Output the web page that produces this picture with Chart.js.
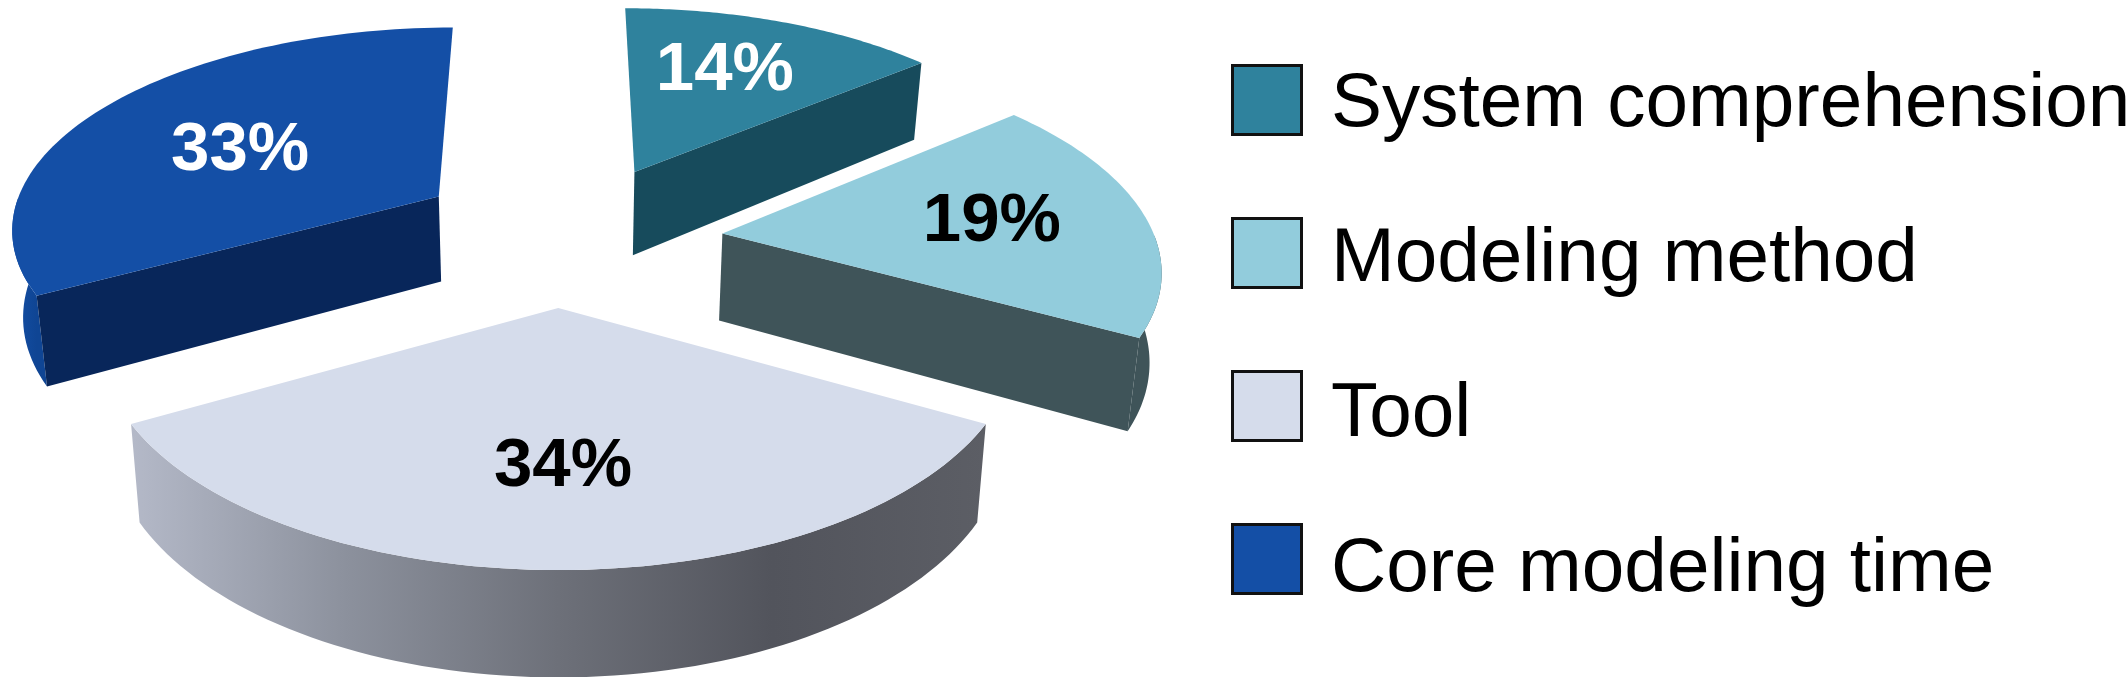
<!DOCTYPE html>
<html>
<head>
<meta charset="utf-8">
<title>Modeling effort</title>
<script src="https://cdn.jsdelivr.net/npm/chart.js@4"></script>
<style>
  html, body { margin: 0; padding: 0; background: #fff; overflow: hidden; }
  #wrap { width: 2126px; height: 677px; }
</style>
</head>
<body>
<div id="wrap"><canvas id="chart"></canvas></div>
<script>
const categories = ['System comprehension', 'Modeling method', 'Tool', 'Core modeling time'];
const shares = [14, 19, 34, 33];

// look of each slice
const topColors = ['#2F829D', '#92CCDC', '#D5DCEB', '#144FA6'];
const cutColors = ['#174B5C', '#3F5459', '#5A5C63', '#08265A'];
const rimColors = [
  ['#174B5C', '#174B5C'],
  ['#3F5459', '#3F5459'],
  ['#B4B9C8', '#8C919D', '#6D7079', '#52545C', '#5C5E65'],
  ['#144FA6', '#0F4594']
];
const labelColors = ['#fff', '#000', '#000', '#fff'];

// how far each slice is pulled out of the pie, in radii
const pullU = [0.19, 0.386, 0.005, -0.279];
const pullV = [-0.328, -0.01, 0.341, -0.197];
// where the percentages sit on the pie plane, in radii
const labelU = [0.441, 1.019, 0.014, -0.777];
const labelV = [-0.915, -0.067, 0.984, -0.443];

// camera used for the tilted pie
const horizon = -1218, vanishX = 556, nearK = 6.88e-4, depthK = 0.96e-4, widthK = 0.297;
const dropY = 1.06, dropX = 0.98;

function project(u, v, low) {
  const d = 1 / (nearK - depthK * v);
  let x = widthK * d * u;
  let y = d;
  if (low) { x *= dropX; y *= dropY; }
  return [vanishX + x, horizon + y];
}

function poly(ctx, pts, fill) {
  ctx.beginPath();
  pts.forEach((p, i) => i ? ctx.lineTo(p[0], p[1]) : ctx.moveTo(p[0], p[1]));
  ctx.closePath();
  ctx.fillStyle = fill;
  ctx.fill();
}

// a cut face only shows when its outward side looks down the picture
function faceShows(apex, corner, inner) {
  const ex = corner[0] - apex[0], ey = corner[1] - apex[1];
  let nx = -ey, ny = ex;
  if (nx * (inner[0] - apex[0]) + ny * (inner[1] - apex[1]) > 0) { nx = -nx; ny = -ny; }
  return ny > 0.3 * Math.hypot(nx, ny);
}

function drawSlice(ctx, arc, i) {
  const a0 = arc.startAngle, a1 = arc.endAngle;
  const ox = pullU[i], oy = pullV[i];
  const edge = [], near = [];
  for (let s = 0; s <= 80; s++) {
    const a = a0 + (a1 - a0) * s / 80;
    edge.push([ox + Math.cos(a), oy + Math.sin(a)]);
    if (Math.sin(a) >= 0) near.push(edge[s]);
  }
  const top = edge.map(p => project(p[0], p[1], false));
  const low = edge.map(p => project(p[0], p[1], true));
  const apexTop = project(ox, oy, false), apexLow = project(ox, oy, true);

  // outer rim, only the part that faces the viewer
  if (near.length > 1) {
    const rimTop = near.map(p => project(p[0], p[1], false));
    const rimLow = near.map(p => project(p[0], p[1], true));
    const xs = rimTop.map(p => p[0]);
    const grad = ctx.createLinearGradient(Math.min(...xs), 0, Math.max(...xs), 0);
    rimColors[i].forEach((c, k) => grad.addColorStop(k / (rimColors[i].length - 1), c));
    poly(ctx, rimTop.concat(rimLow.reverse()), grad);
  }

  // the two cut faces
  if (faceShows(apexTop, top[0], top[40])) poly(ctx, [apexTop, top[0], low[0], apexLow], cutColors[i]);
  if (faceShows(apexTop, top[80], top[40])) poly(ctx, [apexTop, top[80], low[80], apexLow], cutColors[i]);

  poly(ctx, [apexTop].concat(top), topColors[i]);
}

const pie3d = {
  id: 'pie3d',
  beforeDatasetDraw(chart, args) {
    const ctx = chart.ctx;
    const arcs = args.meta.data;
    ctx.save();
    [0, 3, 1, 2].forEach(i => drawSlice(ctx, arcs[i], i));

    // percentages
    ctx.font = 'bold 69px "Liberation Sans"';
    ctx.textAlign = 'center';
    ctx.textBaseline = 'middle';
    arcs.forEach((arc, i) => {
      const p = project(labelU[i], labelV[i], false);
      ctx.fillStyle = labelColors[i];
      ctx.fillText(shares[i] + '%', p[0], p[1]);
    });

    // legend
    ctx.textAlign = 'left';
    ctx.textBaseline = 'alphabetic';
    ctx.font = '76.5px "Liberation Sans"';
    categories.forEach((name, i) => {
      const boxTop = 65.5 + i * 153;
      ctx.fillStyle = topColors[i];
      ctx.fillRect(1232.5, boxTop, 69, 69);
      ctx.strokeStyle = '#111';
      ctx.lineWidth = 3;
      ctx.strokeRect(1232.5, boxTop, 69, 69);
      ctx.fillStyle = '#000';
      ctx.fillText(name, 1331, 126 + i * 155);
    });
    ctx.restore();
    return false;
  }
};

new Chart(document.getElementById('chart'), {
  type: 'pie',
  data: {
    labels: categories,
    datasets: [{ data: shares, backgroundColor: topColors, borderWidth: 0 }]
  },
  options: {
    responsive: true,
    maintainAspectRatio: false,
    animation: false,
    rotation: 0,
    plugins: {
      legend: { display: false },
      tooltip: { enabled: false }
    }
  },
  plugins: [pie3d]
});
</script>
</body>
</html>
